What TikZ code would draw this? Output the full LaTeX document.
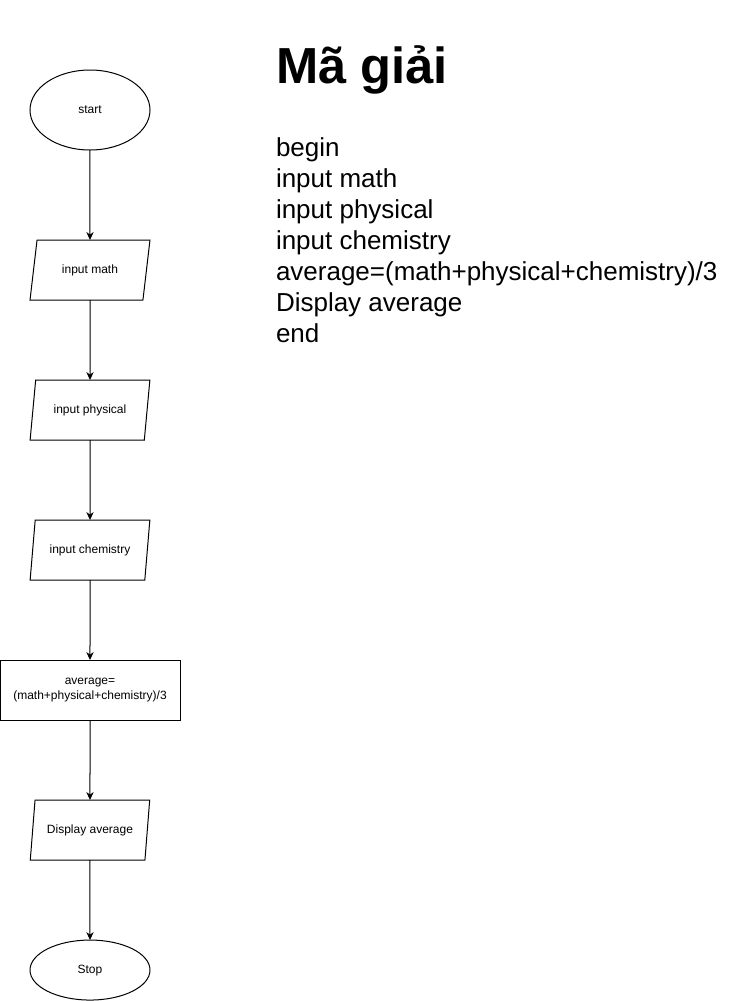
\documentclass[tikz,border=0pt]{standalone}
\usepackage{fontspec}
\setmainfont{Liberation Sans}
\usetikzlibrary{arrows.meta,positioning,shapes.geometric}

\begin{document}
\begin{tikzpicture}[node distance=60pt, line width=0.75pt, >={Stealth[length=6pt,width=5.5pt]},
  every node/.style={font=\fontsize{9}{11}\selectfont, align=center, inner sep=0pt, outer sep=0pt},
  term/.style={draw, ellipse, minimum width=90pt, minimum height=60pt},
  io/.style={draw, trapezium, trapezium left angle=71.57, trapezium right angle=108.43, trapezium stretches=true, minimum width=90pt, minimum height=45pt},
  proc/.style={draw, rectangle, minimum width=135pt, minimum height=45pt}]
\useasboundingbox (0,0) rectangle (548.25pt,-750.75pt);
\node[term] (start) at (67.5pt,-82.5pt) {start};
\node[io] (math) [below=67.5pt of start] {input math};
\node[io] (phys) [below=of math] {input physical};
\node[io] (chem) [below=of phys] {input chemistry};
\node[proc] (avg) [below=of chem] {average=\\(math+physical+chemistry)/3};
\node[io] (disp) [below=of avg] {Display average};
\node[term, minimum height=45pt] (stop) [below=of disp] {Stop};
\draw[->] (start)--(math);\draw[->] (math)--(phys);\draw[->] (phys)--(chem);
\draw[->] (chem)--(avg);\draw[->] (avg)--(disp);\draw[->] (disp)--(stop);
% code text on the right
\node[anchor=base west, font=\fontsize{38}{45}\selectfont\bfseries] (title) at (207pt,-62.25pt) {Mã giải};
\node[anchor=base west, align=left, font=\fontsize{19.5}{23.25}\selectfont] (code) at (207pt,-256.5pt)
  {begin\\input math\\input physical\\input chemistry\\average=(math+physical+chemistry)/3\\Display average\\end};
\end{tikzpicture}
\end{document}
